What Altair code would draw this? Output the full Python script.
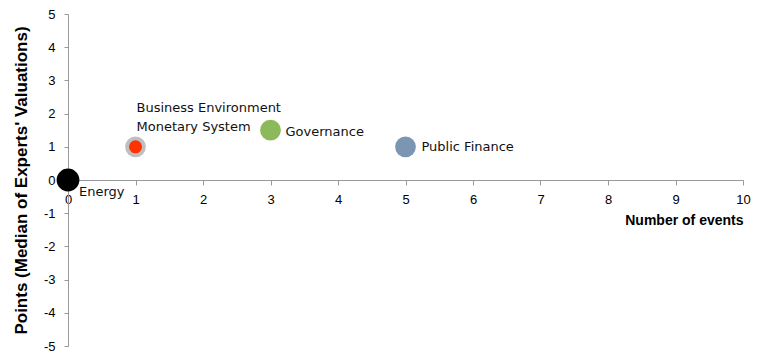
import altair as alt
import pandas as pd

names = ["Energy", "Business Environment", "Monetary System", "Governance", "Public Finance"]
events = [0, 1, 1, 3, 5]
points = [0, 1, 1, 1.5, 1]

x_ticks = list(range(0, 11))
y_ticks = list(range(-5, 6))

colors = ["#000000", "#BFBFBF", "#FF3300", "#8CB95A", "#7A96B3"]
sizes = [520, 430, 170, 430, 430]

df = pd.DataFrame({"name": names, "events": events, "points": points})

FONT = "Liberation Sans"
LFONT = "DejaVu Sans"
W, H = 675, 332

x = alt.X("events:Q", scale=alt.Scale(domain=[0, 10], nice=False, zero=False),
          axis=alt.Axis(values=x_ticks, labelExpr="'' + datum.value", title="Number of events",
                        offset=-H / 2, labelFlush=False,
                        grid=False, domainColor="#999999", tickColor="#999999", tickSize=5,
                        labelFont=FONT, labelFontSize=13, labelColor="#000000", labelPadding=8,
                        labelOverlap=False,
                        titleFont=FONT, titleFontSize=14, titleFontWeight="bold", titleColor="#000000",
                        titleAnchor="end", titleAlign="right", titlePadding=7))
y = alt.Y("points:Q", scale=alt.Scale(domain=[-5, 5], nice=False, zero=False),
          axis=alt.Axis(values=y_ticks, tickCount=11, labelExpr="'' + datum.value",
                        title="Points (Median of Experts' Valuations)", labelFlush=False,
                        grid=False, domainColor="#999999", tickColor="#999999", tickSize=4,
                        labelFont=FONT, labelFontSize=13, labelColor="#000000", labelPadding=9,
                        labelOverlap=False,
                        titleFont=FONT, titleFontSize=17, titleFontWeight="bold", titleColor="#000000",
                        titlePadding=13))

layers = []
for n, c, s in zip(names, colors, sizes):
    layers.append(
        alt.Chart(df).transform_filter(alt.datum.name == n).mark_circle(
            opacity=1, color=c, size=s
        ).encode(x=x, y=y)
    )

offsets = {
    "Energy": (11, 12),
    "Business Environment": (1, -39),
    "Monetary System": (1, -20),
    "Governance": (15, 2),
    "Public Finance": (16, 0),
}

for n in names:
    dx, dy = offsets[n]
    layers.append(
        alt.Chart(df).transform_filter(alt.datum.name == n).mark_text(
            align="left", baseline="middle", dx=dx, dy=dy, font=LFONT, fontSize=13, color="#111111"
        ).encode(x=x, y=y, text="name:N")
    )

chart = alt.layer(*layers).properties(
    width=W, height=H,
    autosize=alt.AutoSizeParams(type="none"),
    padding={"left": 68, "top": 14, "right": 14, "bottom": 9},
    background="white",
).configure_view(stroke=None)

chart.save("out.html", embed_options={"renderer": "svg", "actions": False})
